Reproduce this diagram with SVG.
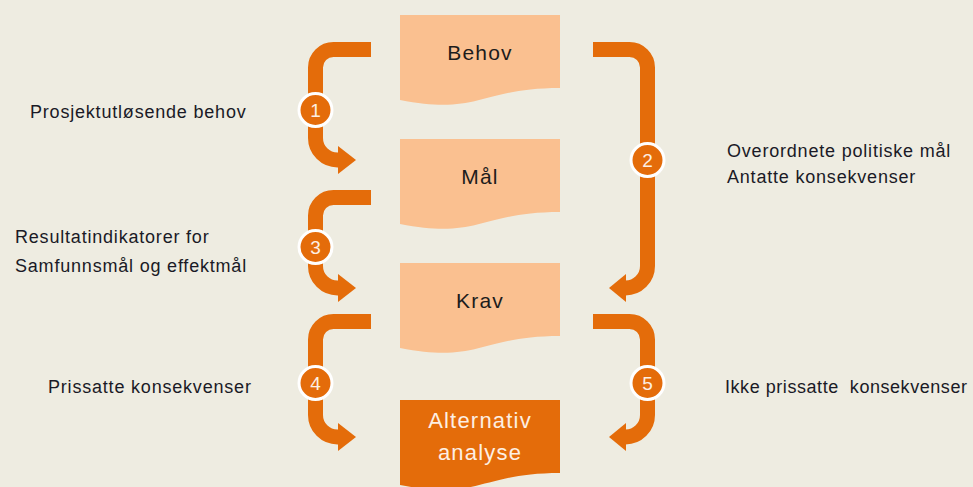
<svg xmlns="http://www.w3.org/2000/svg" width="973" height="487" viewBox="0 0 973 487">
  <style>
    .doc { fill: #FAC090; }
    .doc-dark { fill: #E46C0A; }
    .ntext { font-family: "Liberation Sans", Arial, sans-serif; font-size: 21px; letter-spacing: 1.2px; fill: #1c1c1c; text-anchor: middle; }
    .atext { font-family: "Liberation Sans", Arial, sans-serif; font-size: 22px; letter-spacing: 1.2px; fill: #FDEFE3; text-anchor: middle; }
    .label { font-family: "Liberation Sans", Arial, sans-serif; font-size: 18px; letter-spacing: 0.8px; fill: #1a1a26; }
    .shaft { fill: none; stroke: #E46C0A; stroke-width: 15; }
    .head { fill: #E46C0A; }
    .badge { fill: #E46C0A; stroke: #FFFFFF; stroke-width: 3; }
    .num { font-family: "Liberation Sans", Arial, sans-serif; font-size: 19px; fill: #FDEFE3; text-anchor: middle; }
  </style>
  <rect x="0" y="0" width="973" height="487" fill="#EEECE1"/>

  <g id="connectors">
    <g id="arrow1">
      <path class="shaft" d="M371,49.5 H333.5 A18,18 0 0 0 315.5,67.5 V138 A22,22 0 0 0 337.5,160 H341"/>
      <polygon class="head" points="338,146 356,160 338,174"/>
      <circle class="badge" cx="315.5" cy="110" r="16.5"/>
      <text class="num" x="315.5" y="117">1</text>
    </g>
    <g id="arrow2">
      <path class="shaft" d="M593,49.5 H629.5 A18,18 0 0 1 647.5,67.5 V266 A22,22 0 0 1 625.5,288 H622"/>
      <polygon class="head" points="626,274 609,288 626,302"/>
      <circle class="badge" cx="647.5" cy="160" r="16.5"/>
      <text class="num" x="647.5" y="167">2</text>
    </g>
    <g id="arrow3">
      <path class="shaft" d="M371,197.5 H333.5 A18,18 0 0 0 315.5,215.5 V266 A22,22 0 0 0 337.5,288 H341"/>
      <polygon class="head" points="338,274 356,288 338,302"/>
      <circle class="badge" cx="315.5" cy="247" r="16.5"/>
      <text class="num" x="315.5" y="254">3</text>
    </g>
    <g id="arrow4">
      <path class="shaft" d="M371,321.5 H333.5 A18,18 0 0 0 315.5,339.5 V415 A22,22 0 0 0 337.5,437 H341"/>
      <polygon class="head" points="338,423 356,437 338,451"/>
      <circle class="badge" cx="315.5" cy="383" r="16.5"/>
      <text class="num" x="315.5" y="390">4</text>
    </g>
    <g id="arrow5">
      <path class="shaft" d="M593,321.5 H629.5 A18,18 0 0 1 647.5,339.5 V415 A22,22 0 0 1 625.5,437 H622"/>
      <polygon class="head" points="626,423 609,437 626,451"/>
      <circle class="badge" cx="647.5" cy="383" r="16.5"/>
      <text class="num" x="647.5" y="390">5</text>
    </g>
  </g>

  <g id="behov">
    <path class="doc" d="M400,15 H560 V88 C480,88 480,115.7 400,100 Z"/>
    <text class="ntext" x="480" y="60">Behov</text>
  </g>
  <g id="maal">
    <path class="doc" d="M400,139 H560 V212 C480,212 480,239.7 400,224 Z"/>
    <text class="ntext" x="480" y="184">Mål</text>
  </g>
  <g id="krav">
    <path class="doc" d="M400,263 H560 V336 C480,336 480,363.7 400,348 Z"/>
    <text class="ntext" x="480" y="308">Krav</text>
  </g>
  <g id="alternativ">
    <path class="doc-dark" d="M400,400 H560 V473 C480,473 480,500.7 400,485 Z"/>
    <text class="atext" x="480" y="428">Alternativ</text>
    <text class="atext" x="480" y="460">analyse</text>
  </g>

  <g id="labels">
    <text class="label" x="30" y="118">Prosjektutløsende behov</text>
    <text class="label" x="15" y="243">Resultatindikatorer for</text>
    <text class="label" x="15" y="272">Samfunnsmål og effektmål</text>
    <text class="label" x="48" y="393">Prissatte konsekvenser</text>
    <text class="label" x="727" y="157">Overordnete politiske mål</text>
    <text class="label" x="727" y="183">Antatte konsekvenser</text>
    <text class="label" x="725" y="393" xml:space="preserve" style="letter-spacing:0.55px">Ikke prissatte  konsekvenser</text>
  </g>
</svg>
